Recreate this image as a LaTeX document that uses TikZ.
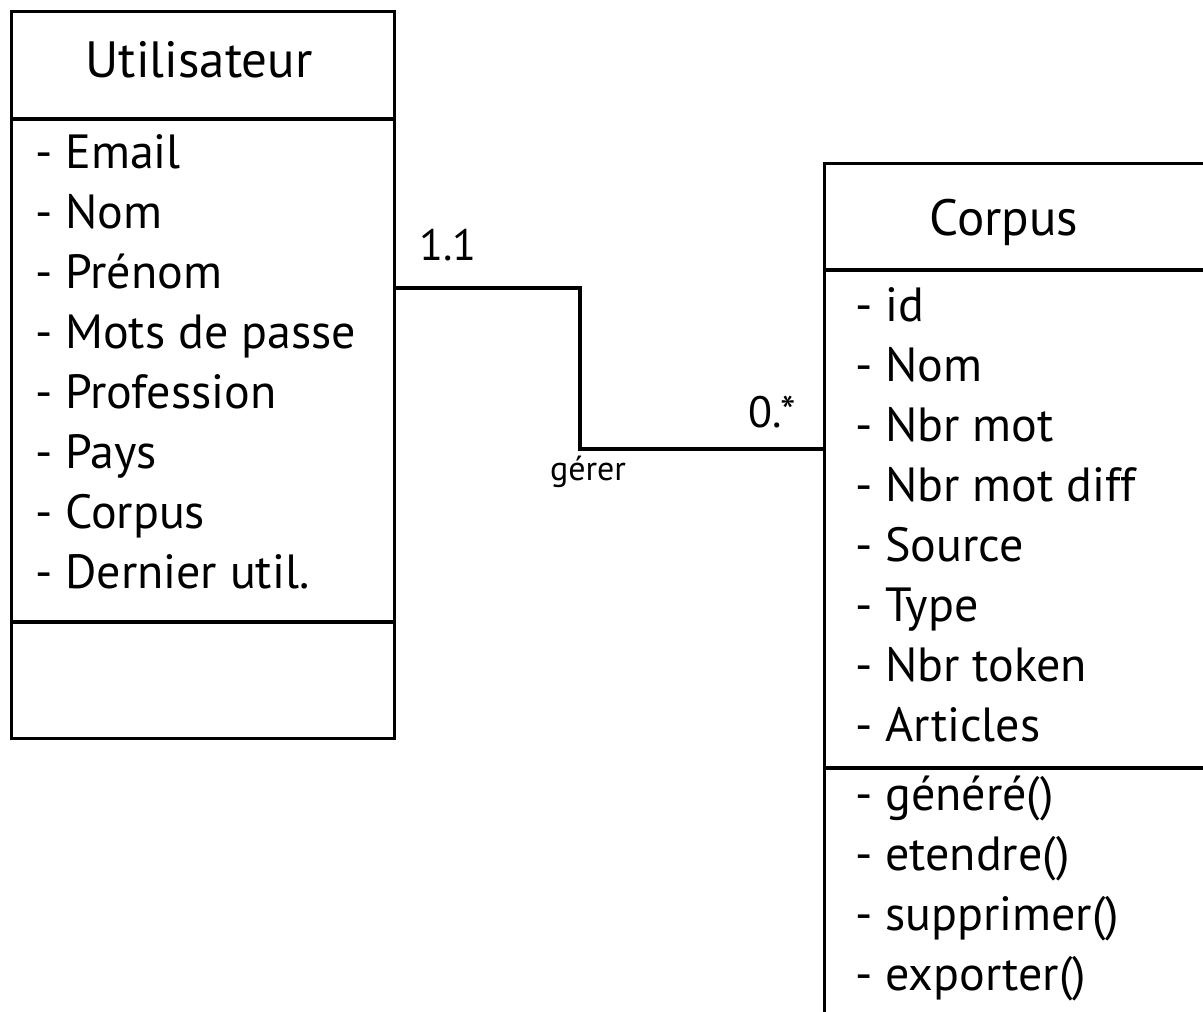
\documentclass[tikz,border=0pt]{standalone}
\usepackage{fontspec}
\setmainfont{PT Sans}
\usetikzlibrary{calc}
\begin{document}
\begin{tikzpicture}[x=1pt,y=1pt,
  classbox/.style={draw, line width=3.2pt, rectangle, inner sep=0pt, anchor=north west},
  rule/.style={line width=3.2pt},
  title/.style={anchor=base, inner sep=0pt, font=\fontsize{51}{53}\selectfont},
  item/.style={anchor=base west, inner sep=0pt, font=\fontsize{48}{50}\selectfont},
  mult/.style={anchor=base, inner sep=0pt, font=\fontsize{44}{46}\selectfont},
  role/.style={anchor=base, inner sep=0pt, font=\fontsize{34}{36}\selectfont},
  link/.style={line width=3.2pt}]
\useasboundingbox (0,0) rectangle (1203,-1012);
\clip (0,0) rectangle (1203,-1012);

% class Utilisateur
\node[classbox, minimum width=383pt, minimum height=727pt] (util) at (10,-10) {};
\draw[rule] ([yshift=-109pt]util.north west) -- ([yshift=-109pt]util.north east);
\draw[rule] ([yshift=-612pt]util.north west) -- ([yshift=-612pt]util.north east);
\node[title] (utiltitle) at (199,-77) {Utilisateur};
\foreach \t [count=\i from 0] in {Email,Nom,Prénom,Mots de passe,Profession,Pays,Corpus,Dernier util.}
  \node[item] (ua\i) at (35,-168-60*\i) {- \t};

% class Corpus (runs past the page edge)
\node[classbox, minimum width=420pt, minimum height=900pt] (corpus) at (823,-162) {};
\draw[rule] ([yshift=-108pt]corpus.north west) -- ([yshift=-108pt]corpus.north east);
\draw[rule] ([yshift=-606pt]corpus.north west) -- ([yshift=-606pt]corpus.north east);
\node[title] (corpustitle) at (1004,-235) {Corpus};
\foreach \t [count=\i from 0] in {id,Nom,Nbr mot,Nbr mot diff,Source,Type,Nbr token,Articles}
  \node[item] (ca\i) at (855,-321-60*\i) {- \t};
\foreach \t [count=\i from 0] in {généré(),etendre(),supprimer(),exporter()}
  \node[item] (cm\i) at (855,-810-60*\i) {- \t};

% association gérer
\coordinate (bend) at (580,-449);
\draw[link] ([yshift=-278pt]util.north east) -| (bend) -- ([yshift=-287pt]corpus.north west);
\node[mult] (m1) at (448,-260) {1.1};
\node[mult] (m2) at (772,-427) {0.*};
\node[role] (r1) at (588,-480) {gérer};
\end{tikzpicture}
\end{document}
